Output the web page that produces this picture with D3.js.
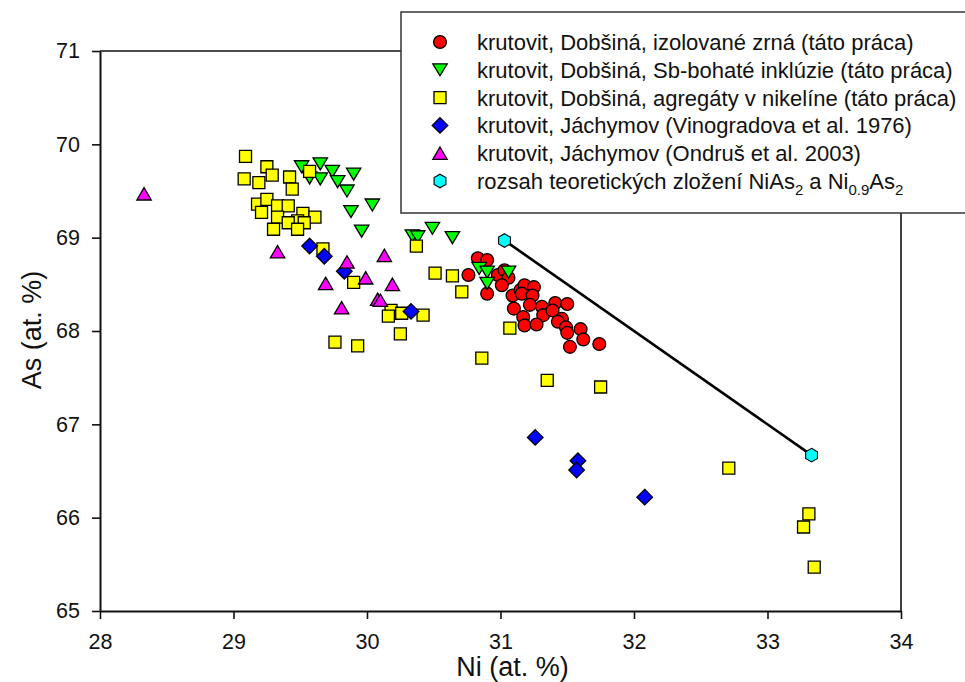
<!DOCTYPE html>
<html>
<head>
<meta charset="utf-8">
<script src="https://cdn.jsdelivr.net/npm/d3@7"></script>
<style>
  body { margin: 0; background: #fff; }
  svg { display: block; font-family: "Liberation Sans", Arial, sans-serif; }
</style>
</head>
<body>
<div id="chart"></div>
<script>
// [Ni, As] in at. %
var izolovaneZrna = [
  [30.83,68.78],[30.90,68.76],[30.76,68.60],[30.90,68.40],[30.98,68.60],[31.03,68.65],
  [31.06,68.57],[31.01,68.49],[31.09,68.38],[31.15,68.44],[31.18,68.49],[31.25,68.47],
  [31.16,68.40],[31.24,68.38],[31.22,68.28],[31.31,68.26],[31.41,68.30],[31.50,68.29],
  [31.10,68.24],[31.17,68.15],[31.32,68.17],[31.39,68.22],[31.46,68.13],[31.18,68.06],
  [31.27,68.07],[31.43,68.10],[31.49,68.04],[31.50,67.98],[31.60,68.02],[31.62,67.91],
  [31.52,67.83],[31.74,67.86]
];
var sbInkluzie = [
  [29.51,69.76],[29.65,69.79],[29.57,69.64],[29.65,69.63],[29.74,69.71],[29.78,69.60],
  [29.90,69.68],[29.85,69.50],[30.04,69.35],[29.88,69.28],[29.96,69.07],[30.34,69.02],
  [30.38,69.01],[30.49,69.10],[30.64,69.00],[30.84,68.67],[30.90,68.63],[31.06,68.63],
  [30.90,68.51]
];
var agregaty = [
  [29.09,69.87],[29.25,69.76],[29.29,69.67],[29.08,69.63],[29.19,69.59],[29.42,69.65],
  [29.44,69.52],[29.57,69.71],[29.18,69.36],[29.25,69.41],[29.21,69.27],[29.33,69.34],
  [29.41,69.34],[29.33,69.22],[29.52,69.26],[29.61,69.22],[29.48,69.18],[29.41,69.16],
  [29.53,69.16],[29.30,69.09],[29.48,69.09],[29.67,68.88],[29.90,68.52],[30.18,68.22],
  [30.16,68.16],[30.26,68.19],[30.42,68.17],[30.25,67.97],[29.76,67.88],[29.93,67.84],
  [30.37,68.91],[30.51,68.62],[30.64,68.59],[30.71,68.42],[30.86,67.71],[31.07,68.03],
  [31.35,67.47],[31.75,67.40],[32.71,66.53],[33.31,66.04],[33.27,65.90],[33.35,65.47]
];
var vinogradova = [
  [29.57,68.91],[29.68,68.80],[29.83,68.64],[30.33,68.21],[31.26,66.86],[31.58,66.61],
  [31.57,66.51],[32.08,66.22]
];
var ondrus = [
  [28.33,69.47],[29.33,68.85],[29.85,68.74],[30.13,68.81],[29.69,68.51],[29.99,68.57],
  [30.19,68.50],[30.08,68.34],[30.10,68.33],[29.81,68.25]
];
// NiAs2 and Ni0.9As2
var teoreticke = [[31.03,68.97],[33.33,66.67]];

var xTicks = [28, 29, 30, 31, 32, 33, 34];
var yTicks = [65, 66, 67, 68, 69, 70, 71];

var legendLabels = [
  "krutovit, Dobšiná, izolované zrná (táto práca)",
  "krutovit, Dobšiná, Sb-bohaté inklúzie (táto práca)",
  "krutovit, Dobšiná, agregáty v nikelíne (táto práca)",
  "krutovit, Jáchymov (Vinogradova et al. 1976)",
  "krutovit, Jáchymov (Ondruš et al. 2003)"
];

var W = 965, H = 682;
var margin = {left: 100, right: 64, top: 51, bottom: 71};

var svg = d3.select("#chart").append("svg")
    .attr("width", W).attr("height", H);

var x = d3.scaleLinear().domain([28, 34]).range([margin.left, W - margin.right]);
var y = d3.scaleLinear().domain([65, 71]).range([H - margin.bottom, margin.top]);

function symbolPath(type){
    switch(type){
        case "circle": return "M6.4,0A6.4,6.4 0 1,1 -6.4,0A6.4,6.4 0 1,1 6.4,0Z";
        case "down": return "M-7.2,-6L7.2,-6L0,6Z";
        case "up": return "M0,-6.2L7.2,6.2L-7.2,6.2Z";
        case "square": return "M-6,-6H6V6H-6Z";
        case "diamond": return "M0,-7.8L7.8,0L0,7.8L-7.8,0Z";
        case "hexagon": return "M0,-6.8L5.9,-3.4L5.9,3.4L0,6.8L-5.9,3.4L-5.9,-3.4Z";
    }
}

var series = [
    {data: izolovaneZrna, type: "circle", fill: "#ff0000"},
    {data: sbInkluzie, type: "down", fill: "#00ff00"},
    {data: agregaty, type: "square", fill: "#ffff00"},
    {data: vinogradova, type: "diamond", fill: "#0000ff"},
    {data: ondrus, type: "up", fill: "#ff00ff"}
];

// frame: top and right lines
svg.append("line")
    .attr("x1", x(28)).attr("x2", x(34)).attr("y1", y(71)).attr("y2", y(71))
    .attr("stroke", "#111").attr("stroke-width", 1.6);
svg.append("line")
    .attr("x1", x(34)).attr("x2", x(34)).attr("y1", y(71)).attr("y2", y(65))
    .attr("stroke", "#111").attr("stroke-width", 1.6);

var xAxis = d3.axisBottom(x).tickValues(xTicks).tickSize(8).tickSizeOuter(0).tickPadding(15)
    .tickFormat(d3.format("d"));
var yAxis = d3.axisLeft(y).tickValues(yTicks).tickSize(8).tickSizeOuter(0).tickPadding(12)
    .tickFormat(d3.format("d"));

var gx = svg.append("g")
    .attr("transform", "translate(0," + y(65) + ")")
    .call(xAxis);
var gy = svg.append("g")
    .attr("transform", "translate(" + x(28) + ",0)")
    .call(yAxis);

[gx, gy].forEach(function(g){
    g.select(".domain").attr("stroke", "#111").attr("stroke-width", 2);
    g.selectAll(".tick line").attr("stroke", "#111").attr("stroke-width", 1.6);
    g.selectAll(".tick text")
        .attr("fill", "#111")
        .style("font-size", "21.5px")
        .style("font-family", "'Liberation Sans', Arial, sans-serif");
});

svg.append("text")
    .attr("x", x(31) + 12).attr("y", 676)
    .attr("text-anchor", "middle")
    .style("font-size", "27px").attr("fill", "#111")
    .text("Ni (at. %)");
svg.append("text")
    .attr("transform", "translate(41," + (y(68) - 1) + ") rotate(-90)")
    .attr("text-anchor", "middle")
    .style("font-size", "27px").attr("fill", "#111")
    .text("As (at. %)");

// data
series.forEach(function(s){
    svg.append("g").selectAll("path")
        .data(s.data)
        .enter()
        .append("path")
        .attr("d", symbolPath(s.type))
        .attr("transform", function(d){ return "translate(" + x(d[0]) + "," + y(d[1]) + ")"; })
        .attr("fill", s.fill)
        .attr("stroke", "#000")
        .attr("stroke-width", 1.3);
});

svg.append("path")
    .datum(teoreticke)
    .attr("d", d3.line().x(function(d){ return x(d[0]); }).y(function(d){ return y(d[1]); }))
    .attr("fill", "none")
    .attr("stroke", "#000")
    .attr("stroke-width", 2.6);

svg.append("g").selectAll("path")
    .data(teoreticke)
    .enter()
    .append("path")
    .attr("d", symbolPath("hexagon"))
    .attr("transform", function(d){ return "translate(" + x(d[0]) + "," + y(d[1]) + ")"; })
    .attr("fill", "#00ffff")
    .attr("stroke", "#000")
    .attr("stroke-width", 1.1);

// legend
var legend = svg.append("g").attr("transform", "translate(401,12)");
legend.append("rect")
    .attr("width", 620).attr("height", 201)
    .attr("fill", "#fff").attr("stroke", "#333").attr("stroke-width", 1.5);

var rowY = function(i){ return 30 + i * 27.8; };

var rows = legend.selectAll("g.row")
    .data(series)
    .enter()
    .append("g")
    .attr("class", "row")
    .attr("transform", function(d, i){ return "translate(39," + rowY(i) + ")"; });
rows.append("path")
    .attr("d", function(d){ return symbolPath(d.type); })
    .attr("fill", function(d){ return d.fill; })
    .attr("stroke", "#000")
    .attr("stroke-width", 1.3);
rows.append("text")
    .attr("x", 37).attr("dy", "0.36em")
    .style("font-size", "22px").attr("fill", "#111")
    .text(function(d, i){ return legendLabels[i]; });

var last = legend.append("g").attr("transform", "translate(39," + rowY(5) + ")");
last.append("path")
    .attr("d", symbolPath("hexagon"))
    .attr("fill", "#00ffff").attr("stroke", "#000").attr("stroke-width", 1.1);
var lt = last.append("text")
    .attr("x", 37).attr("dy", "0.36em")
    .style("font-size", "22px").attr("fill", "#111");
lt.append("tspan").text("rozsah teoretických zložení NiAs");
lt.append("tspan").attr("dy", "6").style("font-size", "15px").text("2");
lt.append("tspan").attr("dy", "-6").text(" a Ni");
lt.append("tspan").attr("dy", "6").style("font-size", "15px").text("0.9");
lt.append("tspan").attr("dy", "-6").text("As");
lt.append("tspan").attr("dy", "6").style("font-size", "15px").text("2");
</script>
</body>
</html>
